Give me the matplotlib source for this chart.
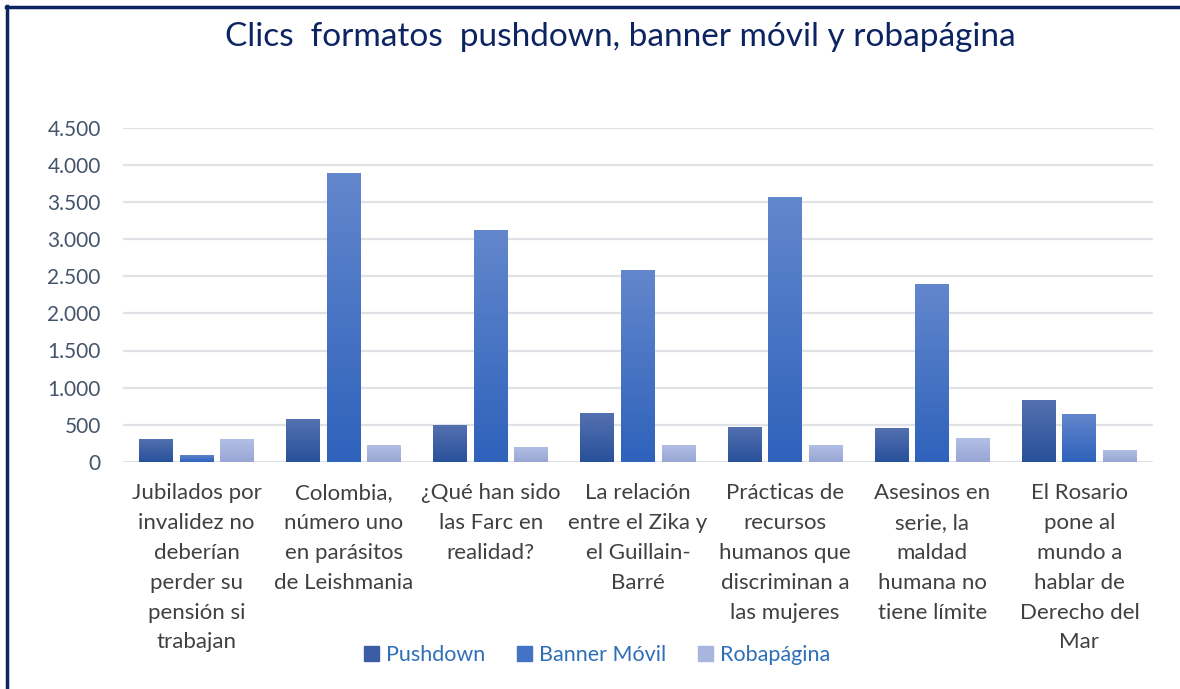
import matplotlib
matplotlib.use("Agg")
import matplotlib.pyplot as plt
import numpy as np
from matplotlib.colors import LinearSegmentedColormap
from matplotlib.patches import Rectangle
from matplotlib.lines import Line2D
from matplotlib.ticker import FuncFormatter, MultipleLocator

categories = [
    "Jubilados por\ninvalidez no\ndeberían\nperder su\npensión si\ntrabajan",
    "Colombia,\nnúmero uno\nen parásitos\nde Leishmania",
    "¿Qué han sido\nlas Farc en\nrealidad?",
    "La relación\nentre el Zika y\nel Guillain-\nBarré",
    "Prácticas de\nrecursos\nhumanos que\ndiscriminan a\nlas mujeres",
    "Asesinos en\nserie, la\nmaldad\nhumana no\ntiene límite",
    "El Rosario\npone al\nmundo a\nhablar de\nDerecho del\nMar",
]
series_names = ["Pushdown", "Banner Móvil", "Robapágina"]
pushdown = [313, 582, 501, 663, 474, 461, 837]
banner_movil = [98, 3888, 3122, 2585, 3566, 2397, 649]
robapagina = [313, 233, 206, 233, 233, 327, 165]
title = "Clics  formatos  pushdown, banner móvil y robapágina"

# gradient colors (top, bottom) per series
grads = [("#5571b1", "#28519a"), ("#6387cd", "#2e62bb"), ("#b3c0e5", "#98a6d5")]
legend_colors = ["#3b5da5", "#4472c4", "#a8b5df"]

plt.rcParams['font.family'] = ['Lato', 'DejaVu Sans']

fig = plt.figure(figsize=(11.8, 6.89), dpi=100)
ax = fig.add_axes([123/1180, 1-462/689, (1153-123)/1180, (462-127.5)/689])

x = np.arange(len(categories))
width = 0.231
offset = 0.2755
data = [pushdown, banner_movil, robapagina]
for i, vals in enumerate(data):
    bars = ax.bar(x + (i-1)*offset, vals, width=width, color=legend_colors[i], zorder=2)
    cmap = LinearSegmentedColormap.from_list("g%d" % i, [grads[i][1], grads[i][0]])
    for b in bars:
        x0, y0 = b.get_x(), b.get_y()
        w, h = b.get_width(), b.get_height()
        grad = np.linspace(0, 1, 256).reshape(-1, 1)
        im = ax.imshow(grad, extent=[x0, x0+w, y0, y0+h], origin='lower',
                       aspect='auto', cmap=cmap, zorder=3)
        im.set_clip_path(b)

ax.set_xlim(-0.5, len(categories)-0.5)
ax.set_ylim(0, 4500)
ax.yaxis.set_major_locator(MultipleLocator(500))
ax.yaxis.set_major_formatter(FuncFormatter(lambda v, p: f"{int(v):,}".replace(",", ".")))
ax.grid(axis='y', color='#dfe3e8', linewidth=1.6, zorder=0)
ax.set_axisbelow(True)
for s in ax.spines.values():
    s.set_visible(False)
ax.tick_params(axis='y', length=0, pad=16, labelsize=15, labelcolor='#44546a')
ax.set_xticks(x)
ax.set_xticklabels(categories, fontsize=16, color='#404040', linespacing=1.62)
ax.tick_params(axis='x', length=0, pad=15)

fig.text(620/1180, 1-37/689, title, ha='center', va='center', fontsize=24, color='#0c2461')

handles = [Rectangle((0, 0), 1, 1, color=c) for c in legend_colors]
leg = fig.legend(handles, series_names, loc='center', bbox_to_anchor=(597/1180, 1-655/689),
                 ncol=3, frameon=False, fontsize=15.5, handlelength=0.7, handleheight=0.7,
                 handletextpad=0.35, columnspacing=1.45)
for t in leg.get_texts():
    t.set_color('#2e6fb7')

# outer frame lines (left and top)
fig.add_artist(Line2D([7/1180, 7/1180], [0, 1-6/689], transform=fig.transFigure, color='#0c2461', linewidth=2.5))
fig.add_artist(Line2D([6/1180, 1], [1-7/689, 1-7/689], transform=fig.transFigure, color='#0c2461', linewidth=2.5))

fig.savefig("out.png", dpi=100)
